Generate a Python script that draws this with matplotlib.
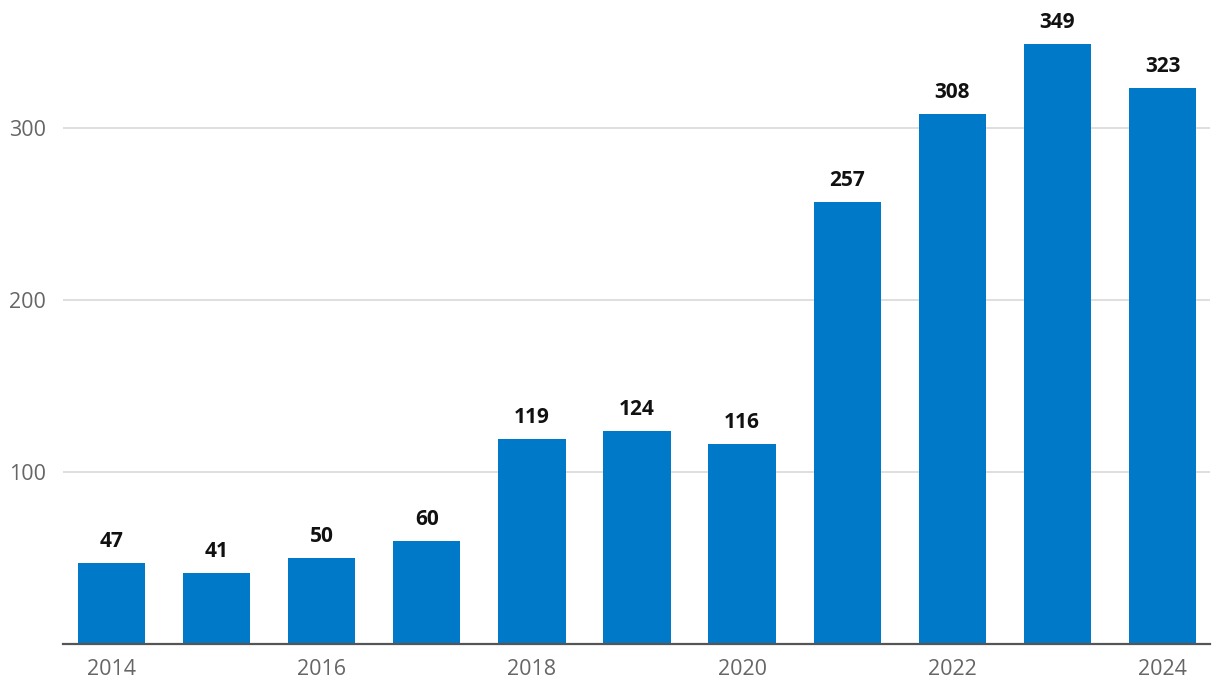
import matplotlib
matplotlib.use('Agg')
import matplotlib.pyplot as plt

# 데이터
years = [2014, 2015, 2016, 2017, 2018, 2019, 2020, 2021, 2022, 2023, 2024]
values = [47, 41, 50, 60, 119, 124, 116, 257, 308, 349, 323]
x_ticks = [2014, 2016, 2018, 2020, 2022, 2024]
y_ticks = [100, 200, 300]

plt.rcParams['font.family'] = ['Open Sans', 'DejaVu Sans']

fig = plt.figure(figsize=(12.2, 6.96), dpi=100)
ax = fig.add_axes([63 / 1220, 52 / 696, (1210 - 63) / 1220, (644 - 10) / 696])

bar_color = '#0079c8'
ax.bar(years, values, width=0.64, color=bar_color, zorder=3)

# 막대 위 값 표시
for x, v in zip(years, values):
    ax.annotate(str(v), (x, v), xytext=(0, 8), textcoords='offset points',
                ha='center', va='bottom', fontsize=15, fontweight='bold', color='#111111')

ax.set_xlim(2014 - 0.462, 2024 + 0.452)
ax.set_ylim(0, (644 - 10) / 1.72)
ax.set_xticks(x_ticks)
ax.set_xticklabels([str(t) for t in x_ticks])
ax.set_yticks(y_ticks)

ax.grid(axis='y', color='#d9d9d9', linewidth=1.2, zorder=0)
ax.tick_params(axis='both', length=0, labelsize=15.5, labelcolor='#666666')
ax.tick_params(axis='x', pad=11)
ax.tick_params(axis='y', pad=12)

for s in ['top', 'right', 'left']:
    ax.spines[s].set_visible(False)
ax.spines['bottom'].set_color('#555555')
ax.spines['bottom'].set_linewidth(1.6)
ax.spines['bottom'].set_zorder(4)

fig.savefig('out.png', dpi=100)
